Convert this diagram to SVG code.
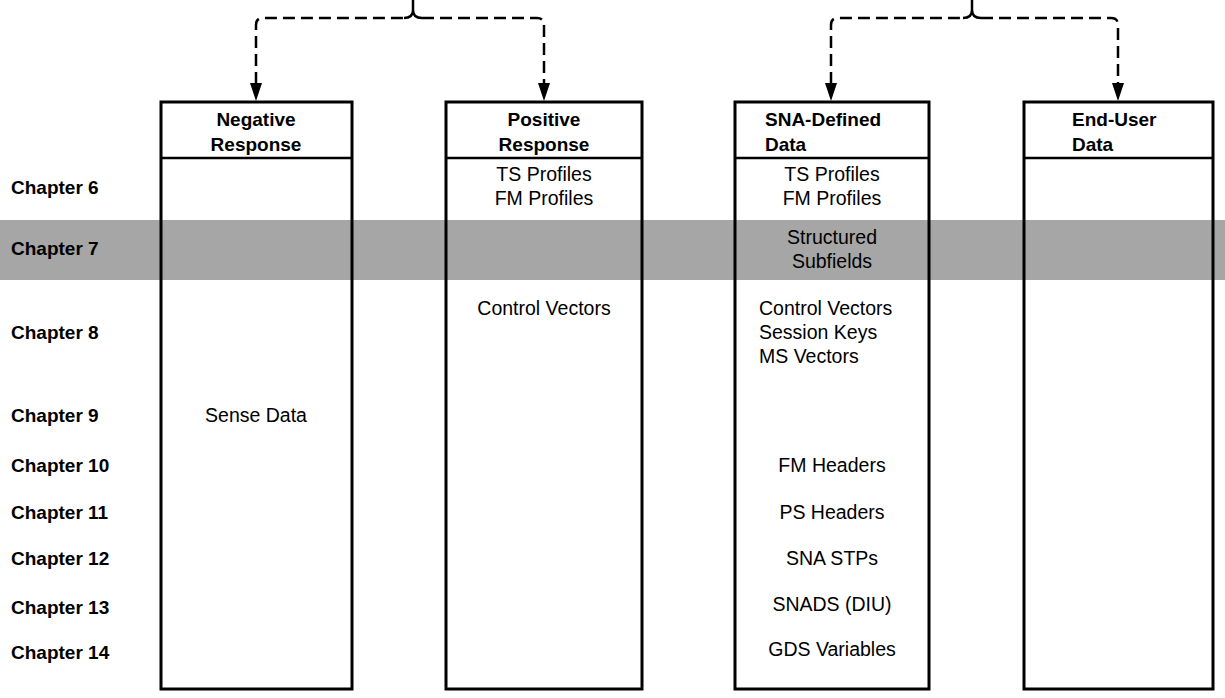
<svg xmlns="http://www.w3.org/2000/svg" width="1225" height="698" viewBox="0 0 1225 698">
<defs>
<style>
.box{fill:none;stroke:#000;stroke-width:3}
.rule{stroke:#000;stroke-width:2.5}
.dash{fill:none;stroke:#000;stroke-width:2.5;stroke-dasharray:12 6}
.tip{fill:none;stroke:#000;stroke-width:2.5}
.ch{font-family:"Liberation Sans",Arial,sans-serif;font-weight:bold;font-size:19px;fill:#000}
.hd{font-family:"Liberation Sans",Arial,sans-serif;font-weight:bold;font-size:19px;fill:#000}
.tx{font-family:"Liberation Sans",Arial,sans-serif;font-size:19.5px;fill:#000}
.c{text-anchor:middle}
</style>
</defs>
<rect width="1225" height="698" fill="#fff"/>
<rect id="band" x="0" y="220" width="1225" height="60" fill="#a6a6a6"/>

<g id="connectors">
<path class="dash" d="M256,84 V25 Q256,18 263,18 H404"/>
<path class="dash" d="M422,18 H537 Q544,18 544,25 V84"/>
<path class="tip" d="M404,18 Q413,18 413,10 V0 M413,10 Q413,18 422,18"/>
<path d="M250,83 L262,83 L256,101 Z" fill="#000"/>
<path d="M538,83 L550,83 L544,101 Z" fill="#000"/>
<path class="dash" d="M831,84 V25 Q831,18 838,18 H963"/>
<path class="dash" d="M981,18 H1111 Q1118,18 1118,25 V84"/>
<path class="tip" d="M963,18 Q972,18 972,10 V0 M972,10 Q972,18 981,18"/>
<path d="M825,83 L837,83 L831,101 Z" fill="#000"/>
<path d="M1112,83 L1124,83 L1118,101 Z" fill="#000"/>
</g>

<g id="chapters">
<text class="ch" x="11" y="194">Chapter 6</text>
<text class="ch" x="11" y="255">Chapter 7</text>
<text class="ch" x="11" y="339">Chapter 8</text>
<text class="ch" x="11" y="422">Chapter 9</text>
<text class="ch" x="11" y="472">Chapter 10</text>
<text class="ch" x="11" y="519">Chapter 11</text>
<text class="ch" x="11" y="565">Chapter 12</text>
<text class="ch" x="11" y="614">Chapter 13</text>
<text class="ch" x="11" y="659">Chapter 14</text>
</g>

<g id="negative-response">
<rect class="box" x="161" y="102" width="191" height="587"/>
<line class="rule" x1="161" y1="158" x2="352" y2="158"/>
<text class="hd c" x="256" y="126">Negative</text>
<text class="hd c" x="256" y="151">Response</text>
<text class="tx c" x="256" y="422">Sense Data</text>
</g>

<g id="positive-response">
<rect class="box" x="446" y="102" width="196" height="587"/>
<line class="rule" x1="446" y1="158" x2="642" y2="158"/>
<text class="hd c" x="544" y="126">Positive</text>
<text class="hd c" x="544" y="151">Response</text>
<text class="tx c" x="544" y="181">TS Profiles</text>
<text class="tx c" x="544" y="205">FM Profiles</text>
<text class="tx c" x="544" y="315">Control Vectors</text>
</g>

<g id="sna-defined-data">
<rect class="box" x="735" y="102" width="194" height="587"/>
<line class="rule" x1="735" y1="158" x2="929" y2="158"/>
<text class="hd" x="765" y="126">SNA-Defined</text>
<text class="hd" x="765" y="151">Data</text>
<text class="tx c" x="832" y="181">TS Profiles</text>
<text class="tx c" x="832" y="205">FM Profiles</text>
<text class="tx c" x="832" y="244">Structured</text>
<text class="tx c" x="832" y="268">Subfields</text>
<text class="tx" x="759" y="315">Control Vectors</text>
<text class="tx" x="759" y="339">Session Keys</text>
<text class="tx" x="759" y="363">MS Vectors</text>
<text class="tx c" x="832" y="472">FM Headers</text>
<text class="tx c" x="832" y="519">PS Headers</text>
<text class="tx c" x="832" y="565">SNA STPs</text>
<text class="tx c" x="832" y="611">SNADS (DIU)</text>
<text class="tx c" x="832" y="656">GDS Variables</text>
</g>

<g id="end-user-data">
<rect class="box" x="1024" y="102" width="189" height="587"/>
<line class="rule" x1="1024" y1="158" x2="1213" y2="158"/>
<text class="hd" x="1072" y="126">End-User</text>
<text class="hd" x="1072" y="151">Data</text>
</g>
</svg>
